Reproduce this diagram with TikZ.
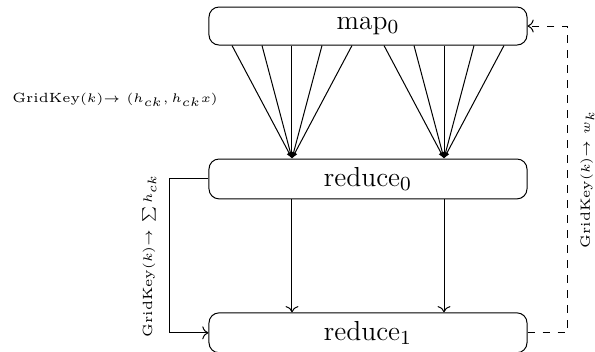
\documentclass[tikz,border=0pt]{standalone}
\usepackage{amsmath}
\usetikzlibrary{arrows.meta,positioning,calc}
\tikzset{
  stagebox/.style={draw,rounded corners=4pt,minimum width=127.2pt,minimum height=15.2pt,align=center,font=\fontsize{11}{13}\selectfont},
  fanflow/.style={-{Latex[length=2.5pt,width=2.2pt]},line width=0.4pt},
  passflow/.style={->,line width=0.4pt},
  feedback/.style={->,dashed,line width=0.4pt},
  keylabel/.style={font=\fontsize{5.35}{6.4}\selectfont,inner sep=2pt},
  sidelabel/.style={keylabel,rotate=90,inner sep=5pt}
}

\begin{document}
\begin{tikzpicture}[node distance=45.2pt]
  \useasboundingbox (-147.2pt,10.4pt) rectangle (90.8pt,-130pt);
  \node[stagebox] (map0) {map$_0$};
  \node[stagebox,below=of map0] (reduce0) {reduce$_0$};
  \node[stagebox,below=of reduce0] (reduce1) {reduce$_1$};
  % fan from map to the two reducer inputs
  \foreach \i in {0,...,4} {
    \pgfmathsetmacro{\offa}{-54.4+12*\i}
    \pgfmathsetmacro{\offb}{6.4+12*\i}
    \draw[fanflow] ([xshift=\offa pt]map0.south) -- ([xshift=-30.4pt]reduce0.north);
    \draw[fanflow] ([xshift=\offb pt]map0.south) -- ([xshift=30.4pt]reduce0.north);
  }
  \node[keylabel] (emitlabel) at ([shift={(-101.2pt,-29.6pt)}]map0.center) {GridKey$(k)$$\rightarrow$ $(h_{ck}, h_{ck}x)$};
  \draw[passflow] ([xshift=-30.4pt]reduce0.south) -- ([xshift=-30.4pt]reduce1.north);
  \draw[passflow] ([xshift=30.4pt]reduce0.south) -- ([xshift=30.4pt]reduce1.north);
  \draw[passflow] (reduce0.west) -- ++(-15.6pt,0) coordinate (sumcorner)
    -- (sumcorner |- reduce1.west) node[sidelabel,midway,anchor=south] (sumlabel) {GridKey$(k)$$\rightarrow$ $\sum h_{ck}$}
    -- (reduce1.west);
  \draw[feedback] (reduce1.east) -- ++(16pt,0) coordinate (backcorner)
    -- (backcorner |- map0.east) node[sidelabel,midway,anchor=north] (weightlabel) {GridKey$(k)$$\rightarrow$ $w_k$}
    -- (map0.east);
\end{tikzpicture}
\end{document}
